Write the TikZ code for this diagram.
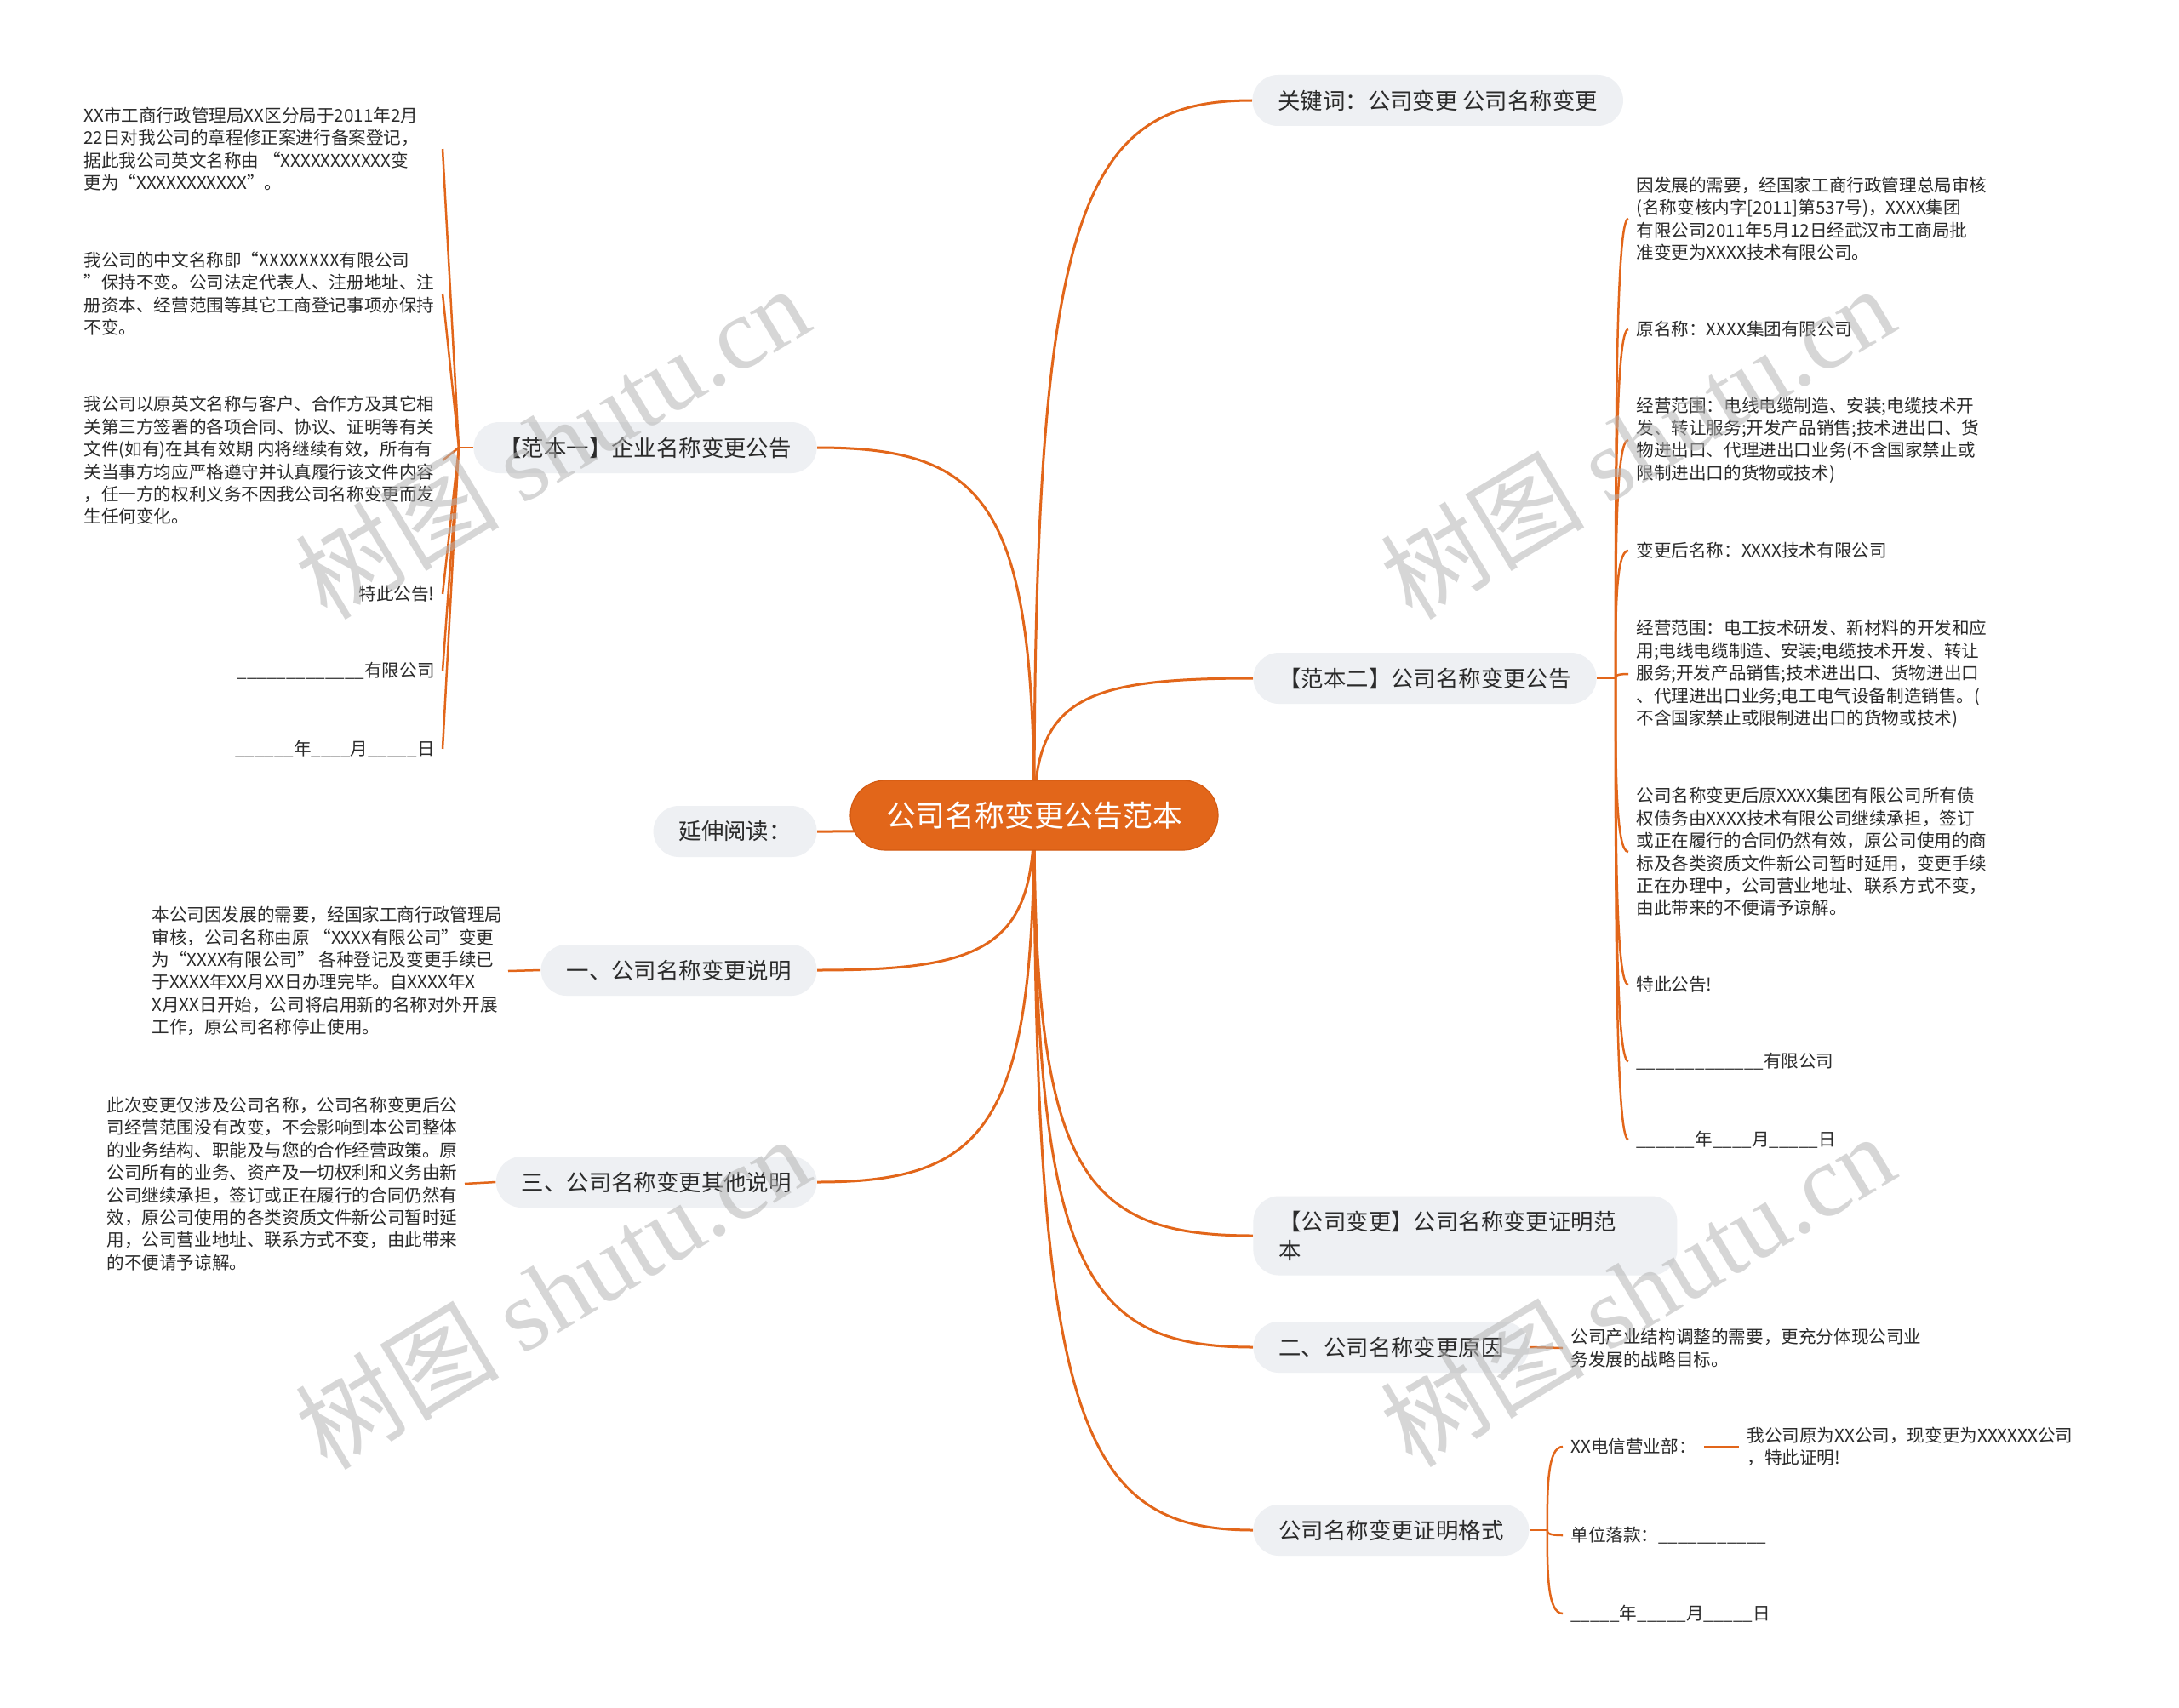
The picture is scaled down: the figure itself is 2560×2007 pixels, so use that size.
\documentclass[tikz,border=0pt]{standalone}
\usepackage{fontspec}
\setmainfont{Noto Sans CJK SC}
\newfontfamily\wmserif{Liberation Serif}
\usetikzlibrary{calc,backgrounds}
\definecolor{org}{HTML}{E2661A}
\definecolor{orgdark}{HTML}{D35A12}
\definecolor{pill}{HTML}{EEF0F3}
\definecolor{txt}{HTML}{2B2B2B}
\definecolor{wmc}{HTML}{B5B5B5}
\tikzset{
  root/.style={fill=org, draw=orgdark, line width=0.6pt, rounded corners=20.5pt, minimum height=41pt, inner xsep=21pt, text=white, font=\fontsize{17.4pt}{20pt}\selectfont},
  main/.style={fill=pill, rounded corners=15pt, minimum height=30pt, inner xsep=15pt, inner ysep=4pt, align=left, text=txt, font=\fontsize{13.2pt}{17pt}\selectfont},
  leaf/.style={inner xsep=4.5pt, inner ysep=0pt, align=left, text=txt, font=\fontsize{10.3pt}{13.2pt}\selectfont},
  conn/.style={draw=org, line width=1.5pt},
  lconn/.style={draw=org, line width=1.25pt},
  branch/.style={to path={.. controls ($(\tikztostart |- \tikztotarget)!0.15!(\tikztostart)$) and ($(\tikztostart |- \tikztotarget)!0.22!(\tikztotarget)$) .. (\tikztotarget) \tikztonodes}},
  bracket/.style={to path={.. controls ($(\tikztostart)!0.5!(\tikztostart |- \tikztotarget)$) and (\tikztostart |- \tikztotarget) .. (\tikztotarget) \tikztonodes}},
  wm/.style={text=wmc, text opacity=0.55, rotate=31, inner sep=0pt, font=\fontsize{60pt}{60pt}\selectfont},
}
\begin{document}
\begin{tikzpicture}[x=0.5pt,y=-0.5pt]
\path[use as bounding box] (0,0) rectangle (2560,2007);

% root
\node[root] (c) at (1215,958) {公司名称变更公告范本};

% right main nodes
\node[main, anchor=west] (kw) at (1471,118) {关键词：公司变更 公司名称变更};
\node[main, anchor=west] (r2) at (1472,797) {【范本二】公司名称变更公告};
\node[main, anchor=west, text width=219pt, minimum height=46.5pt] (r3) at (1472,1452) {【公司变更】公司名称变更证明范\\本};
\node[main, anchor=west] (r4) at (1472,1583) {二、公司名称变更原因};
\node[main, anchor=west] (r5) at (1472,1798) {公司名称变更证明格式};

% left main nodes
\node[main, anchor=east] (l1) at (960,526) {【范本一】企业名称变更公告};
\node[main, anchor=east] (l2) at (960,977) {延伸阅读：};
\node[main, anchor=east] (l3) at (960,1140) {一、公司名称变更说明};
\node[main, anchor=east] (l4) at (960,1389) {三、公司名称变更其他说明};

% left leaves of 范本一
\node[leaf, anchor=west] (a1) at (89,175) {XX市工商行政管理局XX区分局于2011年2月\\
22日对我公司的章程修正案进行备案登记，\\
据此我公司英文名称由 “XXXXXXXXXXX变\\
更为“XXXXXXXXXXX”。};
\node[leaf, anchor=west] (a2) at (89,345) {我公司的中文名称即“XXXXXXXX有限公司\\
”保持不变。公司法定代表人、注册地址、注\\
册资本、经营范围等其它工商登记事项亦保持\\
不变。};
\node[leaf, anchor=west] (a3) at (89,541) {我公司以原英文名称与客户、合作方及其它相\\
关第三方签署的各项合同、协议、证明等有关\\
文件(如有)在其有效期 内将继续有效，所有有\\
关当事方均应严格遵守并认真履行该文件内容\\
，任一方的权利义务不因我公司名称变更而发\\
生任何变化。};
\node[leaf, anchor=east] (a4) at (520,698) {特此公告!};
\node[leaf, anchor=east] (a5) at (520,788) {\_\_\_\_\_\_\_\_\_\_\_\_\_有限公司};
\node[leaf, anchor=east] (a6) at (520,880) {\_\_\_\_\_\_年\_\_\_\_月\_\_\_\_\_日};

% leaf of 一
\node[leaf, anchor=west] (b1) at (169,1141) {本公司因发展的需要，经国家工商行政管理局\\
审核，公司名称由原 “XXXX有限公司”变更\\
为“XXXX有限公司” 各种登记及变更手续已\\
于XXXX年XX月XX日办理完毕。自XXXX年X\\
X月XX日开始，公司将启用新的名称对外开展\\
工作，原公司名称停止使用。};

% leaf of 三
\node[leaf, anchor=west] (b2) at (116,1391) {此次变更仅涉及公司名称，公司名称变更后公\\
司经营范围没有改变，不会影响到本公司整体\\
的业务结构、职能及与您的合作经营政策。原\\
公司所有的业务、资产及一切权利和义务由新\\
公司继续承担，签订或正在履行的合同仍然有\\
效，原公司使用的各类资质文件新公司暂时延\\
用，公司营业地址、联系方式不变，由此带来\\
的不便请予谅解。};

% right leaves of 范本二
\node[leaf, anchor=west] (e1) at (1913,257) {因发展的需要，经国家工商行政管理总局审核\\
(名称变核内字[2011]第537号)，XXXX集团\\
有限公司2011年5月12日经武汉市工商局批\\
准变更为XXXX技术有限公司。};
\node[leaf, anchor=west] (e2) at (1913,387) {原名称：XXXX集团有限公司};
\node[leaf, anchor=west] (e3) at (1913,517) {经营范围：电线电缆制造、安装;电缆技术开\\
发、转让服务;开发产品销售;技术进出口、货\\
物进出口、代理进出口业务(不含国家禁止或\\
限制进出口的货物或技术)};
\node[leaf, anchor=west] (e4) at (1913,647) {变更后名称：XXXX技术有限公司};
\node[leaf, anchor=west] (e5) at (1913,792) {经营范围：电工技术研发、新材料的开发和应\\
用;电线电缆制造、安装;电缆技术开发、转让\\
服务;开发产品销售;技术进出口、货物进出口\\
、代理进出口业务;电工电气设备制造销售。(\\
不含国家禁止或限制进出口的货物或技术)};
\node[leaf, anchor=west] (e6) at (1913,1001) {公司名称变更后原XXXX集团有限公司所有债\\
权债务由XXXX技术有限公司继续承担，签订\\
或正在履行的合同仍然有效，原公司使用的商\\
标及各类资质文件新公司暂时延用，变更手续\\
正在办理中，公司营业地址、联系方式不变，\\
由此带来的不便请予谅解。};
\node[leaf, anchor=west] (e7) at (1913,1157) {特此公告!};
\node[leaf, anchor=west] (e8) at (1913,1247) {\_\_\_\_\_\_\_\_\_\_\_\_\_有限公司};
\node[leaf, anchor=west] (e9) at (1913,1339) {\_\_\_\_\_\_年\_\_\_\_月\_\_\_\_\_日};

% leaf of 二
\node[leaf, anchor=west] (d1) at (1836,1584) {公司产业结构调整的需要，更充分体现公司业\\
务发展的战略目标。};

% leaves of 证明格式
\node[leaf, anchor=west] (f1) at (1836,1700) {XX电信营业部：};
\node[leaf, anchor=west] (f2) at (1836,1804) {单位落款：\_\_\_\_\_\_\_\_\_\_\_};
\node[leaf, anchor=west] (f3) at (1836,1896) {\_\_\_\_\_年\_\_\_\_\_月\_\_\_\_\_日};
\node[leaf, anchor=west] (f1s) at (2043,1700) {我公司原为XX公司，现变更为XXXXXX公司\\
，特此证明!};

% junctions
\coordinate (j1) at ($(l1.west)+(-17,0)$);
\coordinate (j2) at ($(r2.east)+(22,0)$);
\coordinate (j5) at ($(r5.east)+(21,0)$);

\begin{scope}[on background layer]
  \fill[white] (0,0) rectangle (2560,2007);
  \draw[conn] (c.center) to[branch] (kw.west);
  \draw[conn] (c.center) to[branch] (r2.west);
  \draw[conn] (c.center) to[branch] (r3.west);
  \draw[conn] (c.center) to[branch] (r4.west);
  \draw[conn] (c.center) to[branch] (r5.west);
  \draw[conn] (c.center) to[branch] (l1.east);
  \draw[conn] (c.center) to[branch] (l2.east);
  \draw[conn] (c.center) to[branch] (l3.east);
  \draw[conn] (c.center) to[branch] (l4.east);

  \draw[lconn] (l1.west) -- (j1);
  \foreach \t in {a1,a2,a3,a4,a5,a6} \draw[lconn] (j1) to[bracket] (\t.east -| a4.east);
  \draw[lconn] (r2.east) -- (j2);
  \foreach \t in {e1,e2,e3,e4,e5,e6,e7,e8,e9} \draw[lconn] (j2) to[bracket] (\t.west);
  \draw[lconn] (r5.east) -- (j5);
  \foreach \t in {f1,f2,f3} \draw[lconn] (j5) to[bracket] (\t.west);
  \draw[lconn] (b1.east -| 597,0) -- (l3.west);
  \draw[lconn] (b2.east -| 546,0) -- (l4.west);
  \draw[lconn] (r4.east) -- (d1.west);
  \draw[lconn] (f1.east) -- (f1s.west);
\end{scope}

% watermarks
\node[wm] (w1) at (648,519) {树图 {\wmserif shutu.cn}};
\node[wm] (w2) at (1923,519) {树图 {\wmserif shutu.cn}};
\node[wm] (w3) at (648,1518) {树图 {\wmserif shutu.cn}};
\node[wm] (w4) at (1923,1515) {树图 {\wmserif shutu.cn}};
\end{tikzpicture}
\end{document}
